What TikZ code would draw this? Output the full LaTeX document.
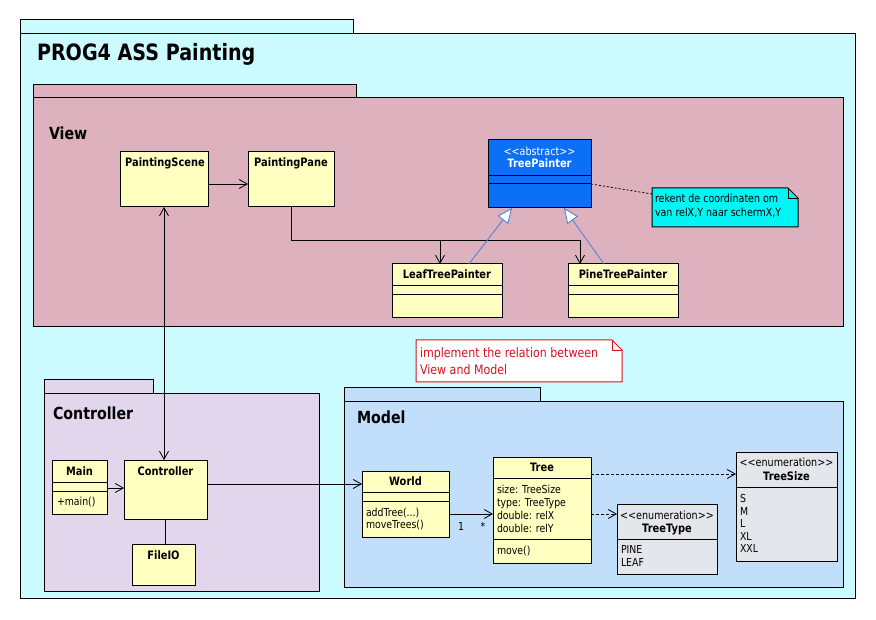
\documentclass[tikz,border=0pt]{standalone}
\usepackage{fontspec}
\newfontfamily\uml{DejaVu Sans}[FakeStretch=0.85]
\usetikzlibrary{arrows.meta}
\definecolor{outerc}{RGB}{204,251,255}
\definecolor{viewc}{RGB}{221,177,189}
\definecolor{ctrlc}{RGB}{226,214,236}
\definecolor{modelc}{RGB}{193,222,251}
\definecolor{clsc}{RGB}{255,255,194}
\definecolor{absc}{RGB}{10,112,245}
\definecolor{notec}{RGB}{0,245,245}
\definecolor{enumc}{RGB}{227,231,236}
\definecolor{redc}{RGB}{210,20,30}
\definecolor{genc}{RGB}{70,125,215}
\begin{document}
\begin{tikzpicture}[x=1pt,y=-1pt,
  every node/.style={inner sep=0pt, outer sep=0pt, font=\uml},
  pkg/.style={draw=black, line width=1pt},
  pkname/.style={anchor=base west, font=\uml\bfseries\fontsize{16.7}{20}\selectfont},
  cls/.style={draw=black, line width=1pt, fill=clsc, rectangle},
  nm/.style={anchor=base, font=\uml\bfseries\fontsize{11.6}{14}\selectfont},
  st/.style={anchor=base, font=\uml\fontsize{11.3}{13}\selectfont},
  tx/.style={anchor=base west, font=\uml\fontsize{11}{13}\selectfont},
  sep/.style={line width=1pt},
  dep/.style={-{Straight Barb[length=8pt,width=9pt]}, line width=0.8pt},
  ddep/.style={dep, dash pattern=on 3pt off 2pt},
  gen/.style={-{Triangle[length=15pt,width=13pt,fill=white]}, draw=genc, line width=0.8pt}
]
\useasboundingbox[fill=white] (0,0) rectangle (876,620);
% outer package
\draw[pkg, fill=outerc] (20,20) rectangle (353,34);
\draw[pkg, fill=outerc] (20,34) rectangle (855,598);
\node[anchor=base west, font=\uml\bfseries\fontsize{22.5}{26}\selectfont] (title) at (37,61) {PROG4 ASS Painting};
% View package
\draw[pkg, fill=viewc] (33,85) rectangle (356,98);
\draw[pkg, fill=viewc] (33,98) rectangle (843,327);
\node[pkname] (viewlbl) at (49,140) {View};
% Controller package
\draw[pkg, fill=ctrlc] (44,380) rectangle (153,394);
\draw[pkg, fill=ctrlc] (44,394) rectangle (319,591);
\node[pkname] (ctrllbl) at (53,420) {Controller};
% Model package
\draw[pkg, fill=modelc] (344,388) rectangle (540,402);
\draw[pkg, fill=modelc] (344,402) rectangle (843,587);
\node[pkname] (modellbl) at (357,424) {Model};

% View classes
\node[cls, minimum width=88pt, minimum height=55pt] (scene) at (164,179.5) {};
\node[nm] (scenet) at (165,167) {PaintingScene};
\node[cls, minimum width=86pt, minimum height=55pt] (pane) at (291,179.5) {};
\node[nm] (panet) at (291,167) {PaintingPane};

\node[cls, fill=absc, minimum width=103pt, minimum height=68pt] (tp) at (539.5,174) {};
\draw[sep] (tp.west |- 0,176) -- (tp.east |- 0,176);
\draw[sep] (tp.west |- 0,184) -- (tp.east |- 0,184);
\node[st, text=white] (tpst) at (539.5,155.5) {<<abstract>>};
\node[nm, text=white] (tpt) at (539.5,168) {TreePainter};

\node[cls, minimum width=110pt, minimum height=54pt] (leaf) at (447,291) {};
\draw[sep] (leaf.west |- 0,286) -- (leaf.east |- 0,286);
\draw[sep] (leaf.west |- 0,295) -- (leaf.east |- 0,295);
\node[nm] (leaft) at (447,279) {LeafTreePainter};

\node[cls, minimum width=110pt, minimum height=54pt] (pine) at (623,291) {};
\draw[sep] (pine.west |- 0,286) -- (pine.east |- 0,286);
\draw[sep] (pine.west |- 0,295) -- (pine.east |- 0,295);
\node[nm] (pinet) at (623,279) {PineTreePainter};

% note 1
\node[minimum width=146pt, minimum height=39pt] (n1) at (725,207.5) {};
\draw[line width=1pt, fill=notec] (n1.north west) -- ([xshift=-10pt]n1.north east) -- ([yshift=-10pt]n1.north east) -- (n1.south east) -- (n1.south west) -- cycle;
\draw[line width=0.8pt] ([xshift=-10pt]n1.north east) -- ([xshift=-10pt,yshift=-10pt]n1.north east) -- ([yshift=-10pt]n1.north east);
\node[tx, font=\uml\fontsize{11.2}{13}\selectfont] (n1a) at (655,202.7) {rekent de coordinaten om};
\node[tx, font=\uml\fontsize{11.2}{13}\selectfont] (n1b) at (655,216.7) {van relX,Y naar schermX,Y};

% note 2
\node[minimum width=206pt, minimum height=42pt] (n2) at (519,361) {};
\draw[line width=1pt, draw=redc, fill=white] (n2.north west) -- ([xshift=-10pt]n2.north east) -- ([yshift=-10pt]n2.north east) -- (n2.south east) -- (n2.south west) -- cycle;
\draw[line width=0.8pt, draw=redc] ([xshift=-10pt]n2.north east) -- ([xshift=-10pt,yshift=-10pt]n2.north east) -- ([yshift=-10pt]n2.north east);
\node[tx, text=redc, font=\uml\fontsize{13}{15}\selectfont] (n2a) at (420,357.3) {implement the relation between};
\node[tx, text=redc, font=\uml\fontsize{13}{15}\selectfont] (n2b) at (420,375) {View and Model};

% Controller classes
\node[cls, minimum width=55pt, minimum height=54pt] (main) at (79.5,487) {};
\draw[sep] (main.west |- 0,482) -- (main.east |- 0,482);
\draw[sep] (main.west |- 0,491) -- (main.east |- 0,491);
\node[nm] (maint) at (79.5,475.7) {Main};
\node[tx] (mainm) at (57,505) {+main()};

\node[cls, minimum width=83pt, minimum height=59pt] (ctrl) at (165.5,489.5) {};
\node[nm] (ctrlt) at (165.5,475.7) {Controller};

\node[cls, minimum width=63pt, minimum height=41pt] (fio) at (163.5,564.5) {};
\node[nm] (fiot) at (163.5,559.3) {FileIO};

% Model classes
\node[cls, minimum width=87pt, minimum height=66pt] (world) at (405.5,504) {};
\draw[sep] (world.west |- 0,492) -- (world.east |- 0,492);
\draw[sep] (world.west |- 0,501) -- (world.east |- 0,501);
\node[nm] (worldt) at (405.5,485.7) {World};
\node[tx] (worlda) at (366,516) {addTree(...)};
\node[tx] (worldb) at (366,528.7) {moveTrees()};

\node[cls, minimum width=98pt, minimum height=106pt] (tree) at (542,510) {};
\draw[sep] (tree.west |- 0,478) -- (tree.east |- 0,478);
\draw[sep] (tree.west |- 0,539) -- (tree.east |- 0,539);
\node[nm] (treet) at (542,471) {Tree};
\node[tx] (treea) at (497,493.3) {size: TreeSize};
\node[tx] (treeb) at (497,506) {type: TreeType};
\node[tx] (treec) at (497,519) {double: relX};
\node[tx] (treed) at (497,532.3) {double: relY};
\node[tx] (treem) at (497,554.3) {move()};

\node[cls, fill=enumc, minimum width=100pt, minimum height=70pt] (tt) at (667,539) {};
\draw[sep] (tt.west |- 0,539) -- (tt.east |- 0,539);
\node[st] (ttst) at (667,519) {<<enumeration>>};
\node[nm] (ttt) at (667,532.3) {TreeType};
\node[tx] (tta) at (621,553.3) {PINE};
\node[tx] (ttb) at (621,566.7) {LEAF};

\node[cls, fill=enumc, minimum width=101pt, minimum height=109pt] (ts) at (786.5,506.5) {};
\draw[sep] (ts.west |- 0,487) -- (ts.east |- 0,487);
\node[st] (tsst) at (786.5,466.7) {<<enumeration>>};
\node[nm] (tst) at (786.5,480.7) {TreeSize};
\node[tx] (tsa) at (740,502.3) {S};
\node[tx] (tsb) at (740,515) {M};
\node[tx] (tsc) at (740,527.3) {L};
\node[tx] (tsd) at (740,540) {XL};
\node[tx] (tse) at (740,552.7) {XXL};

% connectors
\draw[dep] ([yshift=-4.5pt]scene.east) -- ([yshift=-4.5pt]pane.west);
\coordinate (j) at (291,240);
\draw[dep] (pane.south) -- (j) -| ([xshift=-7pt]leaf.north);
\draw[dep] (j) -| ([xshift=-43pt]pine.north);
\draw[gen] ([xshift=22pt]leaf.north) -- ([xshift=-27.5pt]tp.south);
\draw[gen] ([xshift=-19pt]pine.north) -- ([xshift=24.5pt]tp.south);
\draw[line width=0.8pt, dash pattern=on 2pt off 2pt] ([yshift=-10pt]tp.east) -- ([yshift=13.5pt]n1.west);
\draw[{Straight Barb[length=8pt,width=9pt]}-{Straight Barb[length=8pt,width=9pt]}, line width=0.8pt] (scene.south) -- (scene.south |- ctrl.north);
\draw[dep] ([yshift=-1pt]main.east) -- ([yshift=-1pt]main.east -| ctrl.west);
\draw[line width=0.8pt] ([xshift=-0.5pt]ctrl.south) -- ([xshift=-0.5pt]ctrl.south |- fio.north);
\draw[dep] ([yshift=5.5pt]ctrl.east) -- ([yshift=5.5pt]ctrl.east -| world.west);
\draw[dep] ([yshift=-10pt]world.east) -- ([yshift=-10pt]world.east -| tree.west);
\node[tx, anchor=base] (m1) at (461,530) {1};
\node[tx, anchor=base] (m2) at (483,530) {*};
\draw[ddep] ([yshift=-4pt]tree.east) -- ([yshift=-4pt]tree.east -| tt.west);
\draw[ddep] ([yshift=36pt]tree.east) -- ([yshift=36pt]tree.east -| ts.west);
\end{tikzpicture}
\end{document}
